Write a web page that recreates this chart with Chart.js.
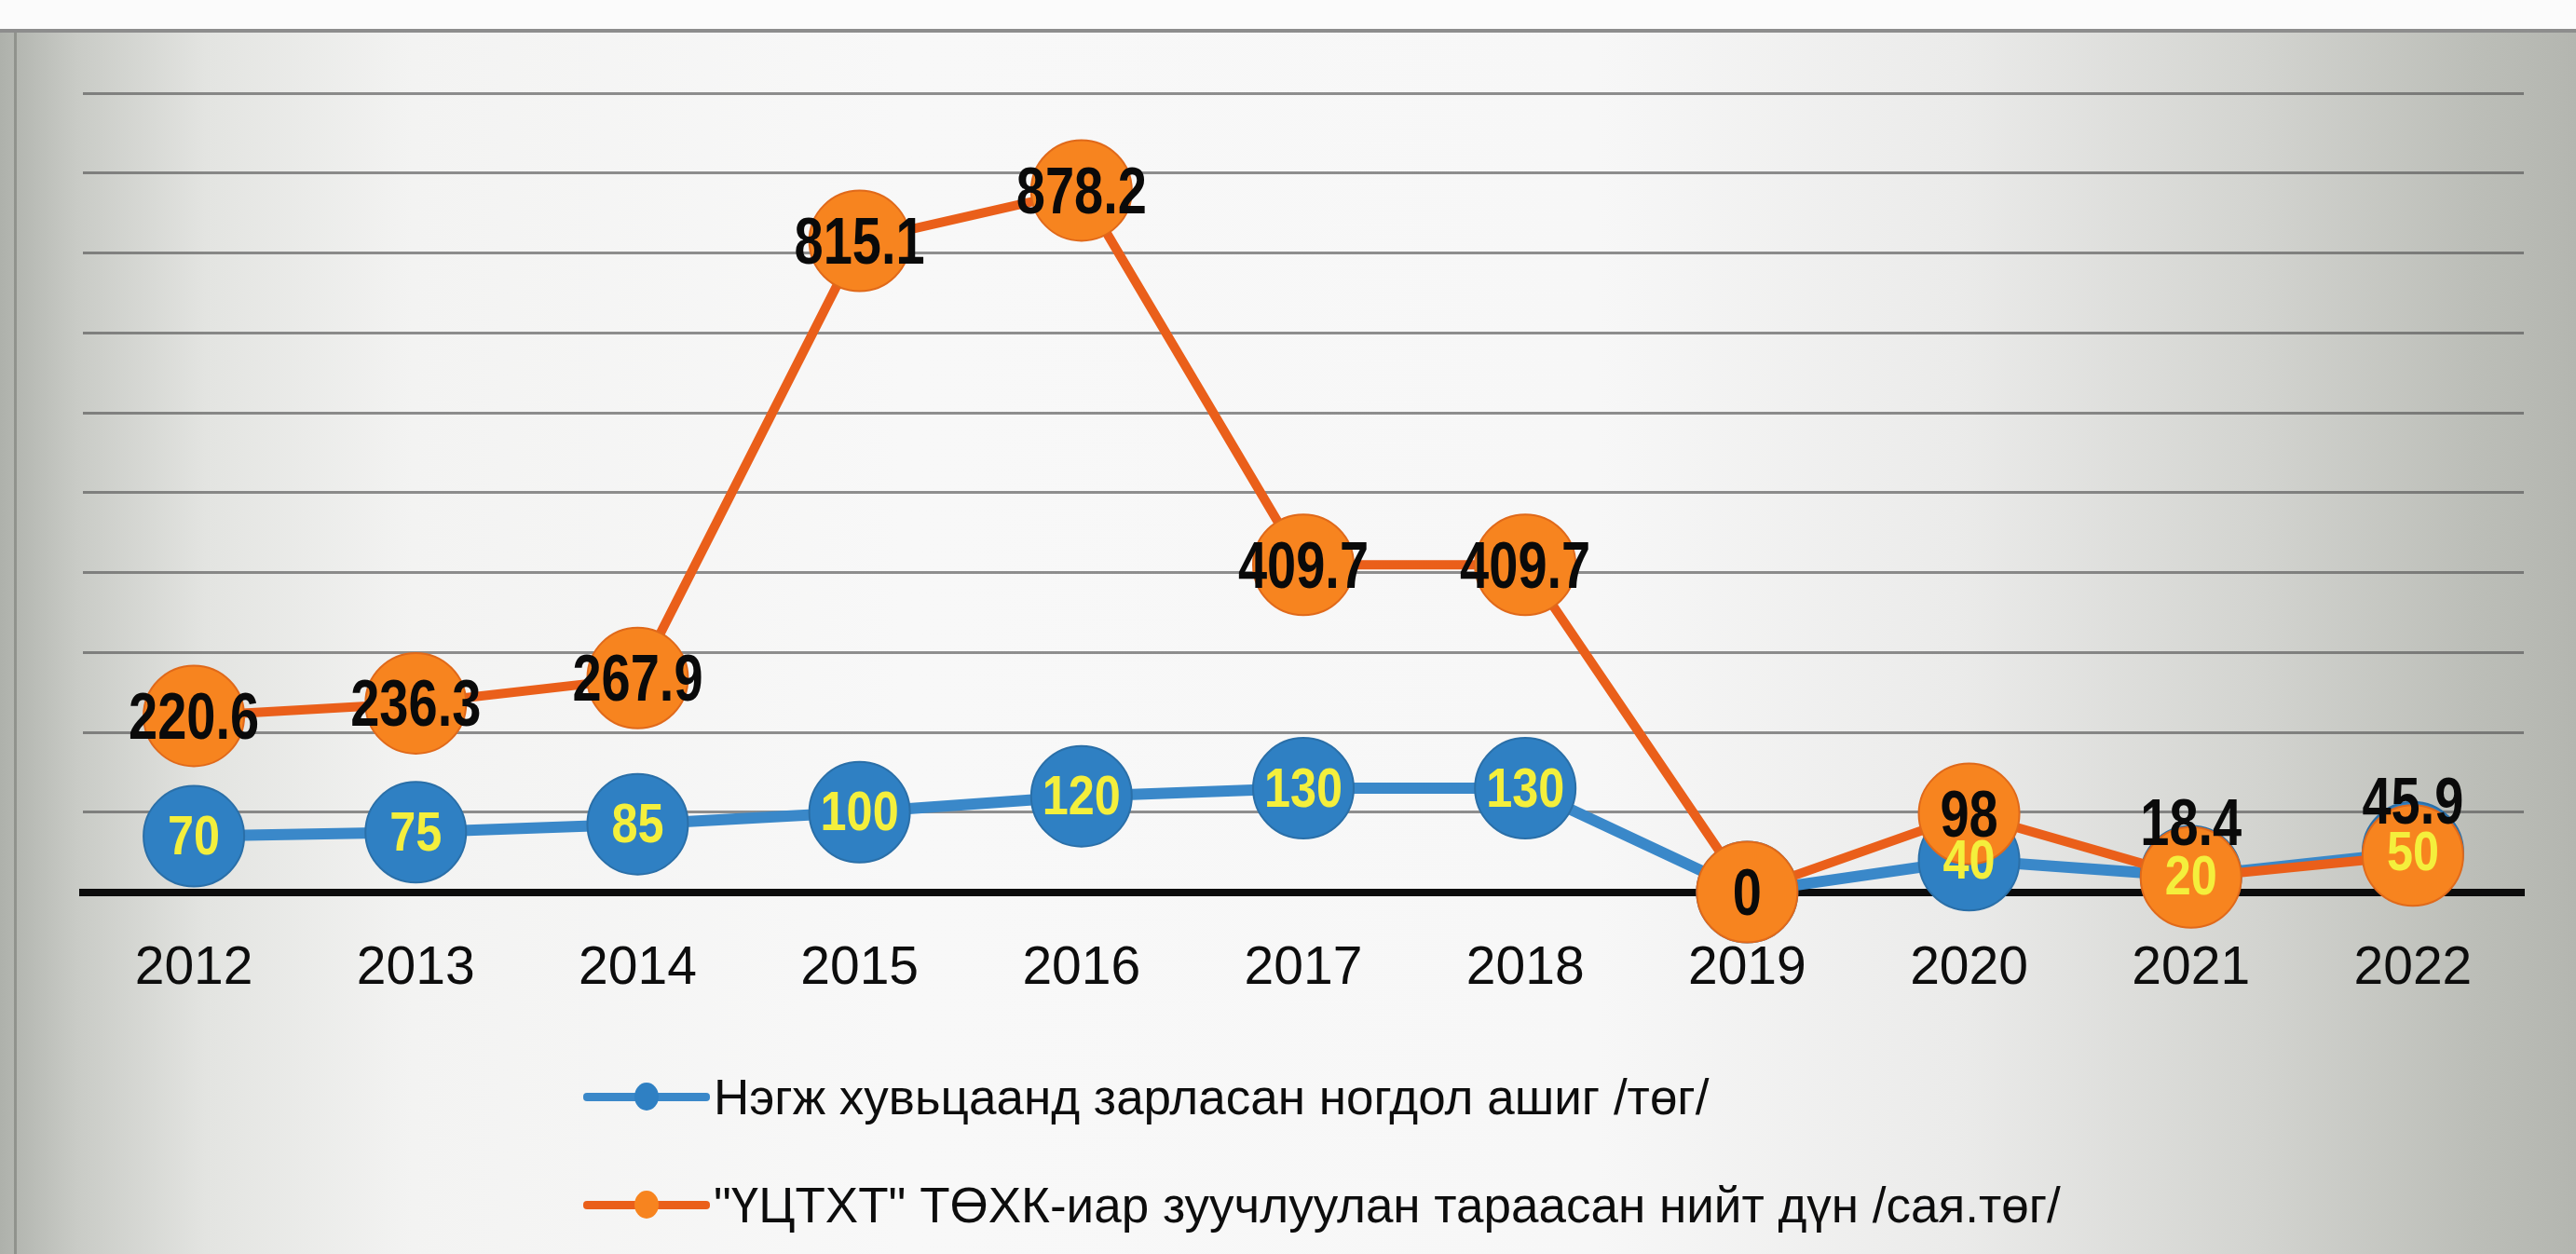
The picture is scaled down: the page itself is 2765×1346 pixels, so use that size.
<!DOCTYPE html>
<html>
<head>
<meta charset="utf-8">
<script src="https://cdn.jsdelivr.net/npm/chart.js@4.4.1/dist/chart.umd.min.js"></script>
<style>
    body {
        margin: 0;
        width: 2765px;
        height: 1346px;
        overflow: hidden;
        position: relative;
        background: linear-gradient(to right, #aeb1ab 0%, #c9cbc6 3%, #e3e4e1 8%, #f3f3f2 16%, #f8f8f8 35%, #f7f7f7 62%, #ebebea 76%, #d2d3cf 88%, #bcbeb8 96%, #b4b6b0 100%);
        font-family: "Liberation Sans", Arial, sans-serif;
    }
    .top-band {
        position: absolute;
        left: 0; top: 0;
        width: 2765px; height: 31px;
        background: #fbfbfb;
        border-bottom: 4px solid #8d8d8d;
    }
    .left-edge {
        position: absolute;
        left: 15px; top: 35px;
        width: 3px; height: 1311px;
        background: rgba(110, 112, 106, 0.5);
    }
    #chart {
        position: absolute;
        left: 0; top: 0;
    }
    .legend {
        position: absolute;
        left: 626px;
        top: 1142px;
    }
    .legend-item {
        display: flex;
        align-items: center;
        height: 70px;
        margin-bottom: 46px;
        font-size: 53px;
        color: #0d0d0d;
    }
    .legend-symbol {
        position: relative;
        width: 136px;
        height: 30px;
        margin-right: 4px;
    }
    .legend-symbol .ln {
        position: absolute;
        left: 0; top: 11px;
        width: 136px; height: 9px;
        border-radius: 4px;
    }
    .legend-symbol .dot {
        position: absolute;
        left: 55px; top: 0;
        width: 26px; height: 30px;
        border-radius: 50%;
    }
</style>
</head>
<body>
<div class="top-band"></div>
<div class="left-edge"></div>
<canvas id="chart" width="2765" height="1146"></canvas>
<div class="legend" id="legend"></div>

<script>
// Data
const years = ['2012', '2013', '2014', '2015', '2016', '2017', '2018', '2019', '2020', '2021', '2022'];
const dividendPerShare = [70, 75, 85, 100, 120, 130, 130, 0, 40, 20, 50];
const totalDistributed = [220.6, 236.3, 267.9, 815.1, 878.2, 409.7, 409.7, 0, 98, 18.4, 45.9];
const seriesNames = [
    'Нэгж хувьцаанд зарласан ногдол ашиг /төг/',
    '"ҮЦТХТ" ТӨХК-иар зуучлуулан тараасан нийт дүн /сая.төг/'
];
const yMin = 0;
const yMax = 1000;
const yStep = 100;

const FONT = '"Liberation Sans", Arial, sans-serif';

const BLUE = '#2f80c3';
const BLUE_LINE = '#3a88c9';
const ORANGE = '#f7841f';
const ORANGE_LINE = '#ea5f1a';

// draw text squeezed horizontally (the original uses a narrow font)
function narrowText(ctx, text, x, y, sx) {
    ctx.save();
    ctx.translate(x, y);
    ctx.scale(sx, 1);
    ctx.fillText(text, 0, 0);
    ctx.restore();
}

// Value labels drawn on top of every marker
const valueLabels = {
    id: 'valueLabels',
    afterDatasetsDraw(chart) {
        const ctx = chart.ctx;
        ctx.save();
        ctx.textAlign = 'center';
        ctx.textBaseline = 'middle';

        // blue series: yellow text in the middle of the marker
        const blueMeta = chart.getDatasetMeta(0);
        ctx.font = 'bold 60px ' + FONT;
        ctx.fillStyle = '#f4ef3c';
        blueMeta.data.forEach((pt, i) => {
            if (dividendPerShare[i] === totalDistributed[i]) return;
            narrowText(ctx, String(dividendPerShare[i]), pt.x, pt.y + 3, 0.84);
        });

        // orange series: black bold text, lifted above when it would hit the blue label
        const orangeMeta = chart.getDatasetMeta(1);
        ctx.font = 'bold 70px ' + FONT;
        ctx.fillStyle = '#0a0a0a';
        orangeMeta.data.forEach((pt, i) => {
            const diff = Math.abs(totalDistributed[i] - dividendPerShare[i]);
            let dy = 5;
            if (diff > 0 && diff < 40) dy = -54;
            narrowText(ctx, String(totalDistributed[i]), pt.x, pt.y + dy, 0.8);
        });
        ctx.restore();
    }
};

const chart = new Chart(document.getElementById('chart'), {
    type: 'line',
    data: {
        labels: years,
        datasets: [
            {
                label: seriesNames[0],
                data: dividendPerShare,
                borderColor: BLUE_LINE,
                borderWidth: 12,
                backgroundColor: BLUE,
                pointBackgroundColor: BLUE,
                pointBorderColor: '#2a6fa8',
                pointBorderWidth: 2,
                pointRadius: 54,
                tension: 0,
                clip: false,
                order: 2
            },
            {
                label: seriesNames[1],
                data: totalDistributed,
                borderColor: ORANGE_LINE,
                borderWidth: 10,
                backgroundColor: ORANGE,
                pointBackgroundColor: ORANGE,
                pointBorderColor: '#e0691a',
                pointBorderWidth: 2,
                pointRadius: 54,
                tension: 0,
                clip: false,
                order: 1
            }
        ]
    },
    options: {
        responsive: false,
        animation: false,
        layout: {
            padding: { left: 89, right: 51, top: 100, bottom: 24 }
        },
        plugins: {
            legend: { display: false },
            tooltip: { enabled: false }
        },
        scales: {
            x: {
                offset: true,
                grid: { display: false, drawTicks: false },
                border: { display: true, color: '#0c0c0c', width: 8 },
                ticks: {
                    padding: 48,
                    color: '#0d0d0d',
                    font: { family: FONT, size: 57 }
                }
            },
            y: {
                min: yMin,
                max: yMax,
                ticks: { display: false, stepSize: yStep },
                border: { display: false },
                grid: {
                    drawTicks: false,
                    color: 'rgba(85, 85, 85, 0.65)',
                    lineWidth: 3
                }
            }
        }
    },
    plugins: [valueLabels]
});

// Legend stacked in two rows under the chart
const legendEl = document.getElementById('legend');
chart.data.datasets.forEach(ds => {
    const item = document.createElement('div');
    item.className = 'legend-item';
    item.innerHTML = `
        <div class="legend-symbol">
            <div class="ln" style="background:${ds.borderColor}"></div>
            <div class="dot" style="background:${ds.pointBackgroundColor}"></div>
        </div>
        <span>${ds.label}</span>`;
    legendEl.appendChild(item);
});
</script>
</body>
</html>
